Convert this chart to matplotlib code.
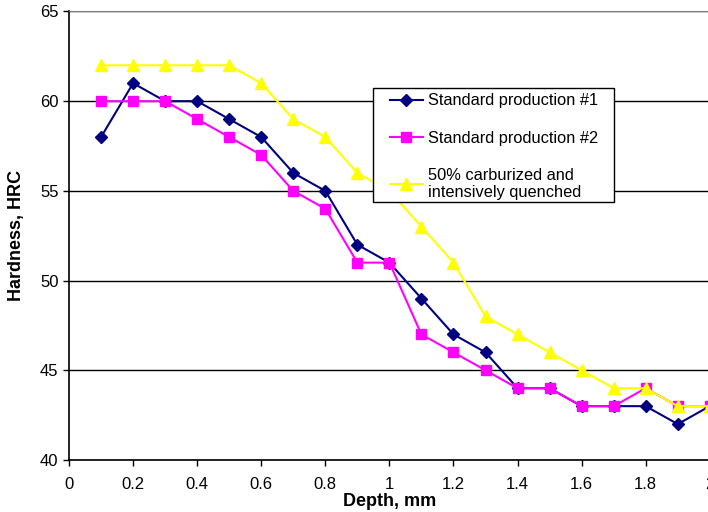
import matplotlib
matplotlib.use("Agg")
import matplotlib.pyplot as plt
from matplotlib.patches import Rectangle
from matplotlib.ticker import FuncFormatter

plt.rcParams['font.family'] = ['Liberation Sans', 'DejaVu Sans']

depth = [0.1, 0.2, 0.3, 0.4, 0.5, 0.6, 0.7, 0.8, 0.9, 1.0,
         1.1, 1.2, 1.3, 1.4, 1.5, 1.6, 1.7, 1.8, 1.9, 2.0]
std1 = [58, 61, 60, 60, 59, 58, 56, 55, 52, 51,
        49, 47, 46, 44, 44, 43, 43, 43, 42, 43]
std2 = [60, 60, 60, 59, 58, 57, 55, 54, 51, 51,
        47, 46, 45, 44, 44, 43, 43, 44, 43, 43]
carb = [62, 62, 62, 62, 62, 61, 59, 58, 56, 55,
        53, 51, 48, 47, 46, 45, 44, 44, 43, 43]

labels = ["Standard production #1", "Standard production #2",
          "50% carburized and\nintensively quenched"]

W, H = 708, 512
fig = plt.figure(figsize=(W / 100, H / 100), dpi=100)
ax = fig.add_axes([0.0975, 0.1016, 0.905, 0.876])

# excel draws series in order, last one on top
ax.plot(depth, std1, color="#000080", marker="D", markersize=6, lw=1.5,
        label=labels[0], zorder=3)
ax.plot(depth, std2, color="#FF00FF", marker="s", markersize=7.5, lw=1.5,
        label=labels[1], zorder=4)
ax.plot(depth, carb, color="#FFFF00", marker="^", markersize=8, lw=1.5,
        label=labels[2], zorder=5)

ax.set_xlim(0, 2)
ax.set_ylim(40, 65)
ax.set_xticks([i * 0.2 for i in range(11)])
ax.set_yticks(range(40, 66, 5))
ax.xaxis.set_major_formatter(FuncFormatter(lambda v, p: f"{v:g}"))
ax.tick_params(direction="out", length=4, width=1, labelsize=12, colors="black")
ax.tick_params(axis="x", pad=8)
ax.yaxis.grid(True, color="black", lw=1)
ax.set_axisbelow(True)

for s in ["left", "bottom"]:
    ax.spines[s].set_color("black")
    ax.spines[s].set_linewidth(1.2)
ax.spines["top"].set_color("#808080")
ax.spines["right"].set_visible(False)

ax.set_xlabel("Depth, mm", fontweight="bold", fontsize=13)
ax.set_ylabel("Hardness, HRC", fontweight="bold", fontsize=13)
ax.xaxis.set_label_coords(389.5 / W, 1 - 493 / H, transform=fig.transFigure)
ax.yaxis.set_label_coords(25 / W, 1 - 235.7 / H, transform=fig.transFigure)

# legend box drawn by hand, excel leaves a wide left margin
box = Rectangle((373 / W, 1 - 202 / H), (614 - 373) / W, (202 - 88) / H,
                transform=fig.transFigure, facecolor="white",
                edgecolor="black", lw=1.0, zorder=10)
fig.patches.append(box)
leg = fig.legend(ax.get_legend_handles_labels()[0], labels,
                 loc="upper left", bbox_to_anchor=(390 / W, 1 - 93.5 / H),
                 fontsize=11.8, frameon=False, handlelength=2.0,
                 labelspacing=1.35, borderpad=0, handletextpad=0.3,
                 borderaxespad=0)
leg.set_zorder(11)

fig.savefig("out.png", dpi=100)
